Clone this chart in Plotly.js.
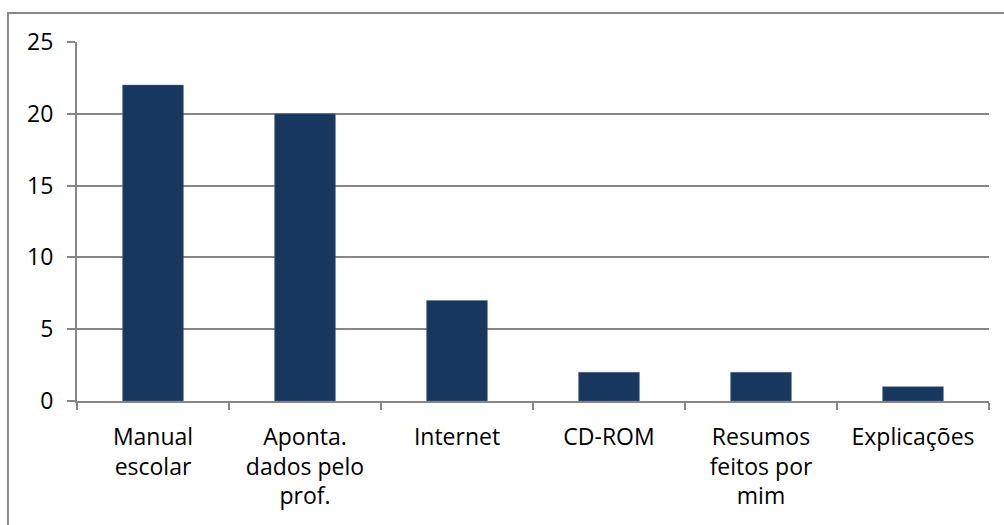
<!DOCTYPE html>
<html>
<head>
<meta charset="utf-8">
<script src="https://cdn.plot.ly/plotly-3.0.1.min.js"></script>
<style>html,body{margin:0;padding:0;background:#fff;}#chart{width:1004px;height:525px;}</style>
</head>
<body>
<div id="chart"></div>
<script>
var categories = ["Manual<br>escolar", "Aponta.<br>dados pelo<br>prof.", "Internet", "CD-ROM", "Resumos<br>feitos por<br>mim", "Explicações"];
var values = [22, 20, 7, 2, 2, 1];
var yTicks = [0, 5, 10, 15, 20, 25];

var fontFam = "'Open Sans', sans-serif";
var trace = {
  type: "bar",
  x: categories,
  y: values,
  marker: {color: "#17375E", line: {color: "#5a7396", width: 0.5}},
  hoverinfo: "x+y"
};
var layout = {
  width: 1004, height: 525,
  margin: {l: 77, r: 15, t: 42, b: 124},
  paper_bgcolor: "#ffffff", plot_bgcolor: "#ffffff",
  showlegend: false,
  bargap: 0.6,
  font: {family: fontFam, size: 23, color: "#000000"},
  xaxis: {
    type: "category",
    showgrid: false,
    showline: true, linecolor: "#868686", linewidth: 2,
    ticks: "outside", tickson: "boundaries", ticklen: 7, tickwidth: 2, tickcolor: "#868686",
    tickfont: {family: fontFam, size: 23, color: "#000000"},
    tickangle: 0,
    ticklabelstandoff: 14,
    fixedrange: true
  },
  yaxis: {
    range: [0, 25],
    tickvals: yTicks,
    ticktext: yTicks.map(String),
    showgrid: true, gridcolor: "#868686", gridwidth: 2,
    showline: true, linecolor: "#868686", linewidth: 2,
    zeroline: false,
    ticks: "outside", ticklen: 8, tickwidth: 2, tickcolor: "#868686",
    tickfont: {family: fontFam, size: 23, color: "#000000"},
    ticklabelstandoff: 9,
    fixedrange: true
  },
  shapes: [{
    type: "rect", xref: "paper", yref: "paper",
    x0: -0.0757, x1: 1.05, y0: -0.6, y1: 1.0808,
    line: {color: "#898989", width: 2}, fillcolor: "rgba(0,0,0,0)", layer: "below"
  }]
};
Plotly.newPlot("chart", [trace], layout, {displayModeBar: false, staticPlot: true});
</script>
</body>
</html>
